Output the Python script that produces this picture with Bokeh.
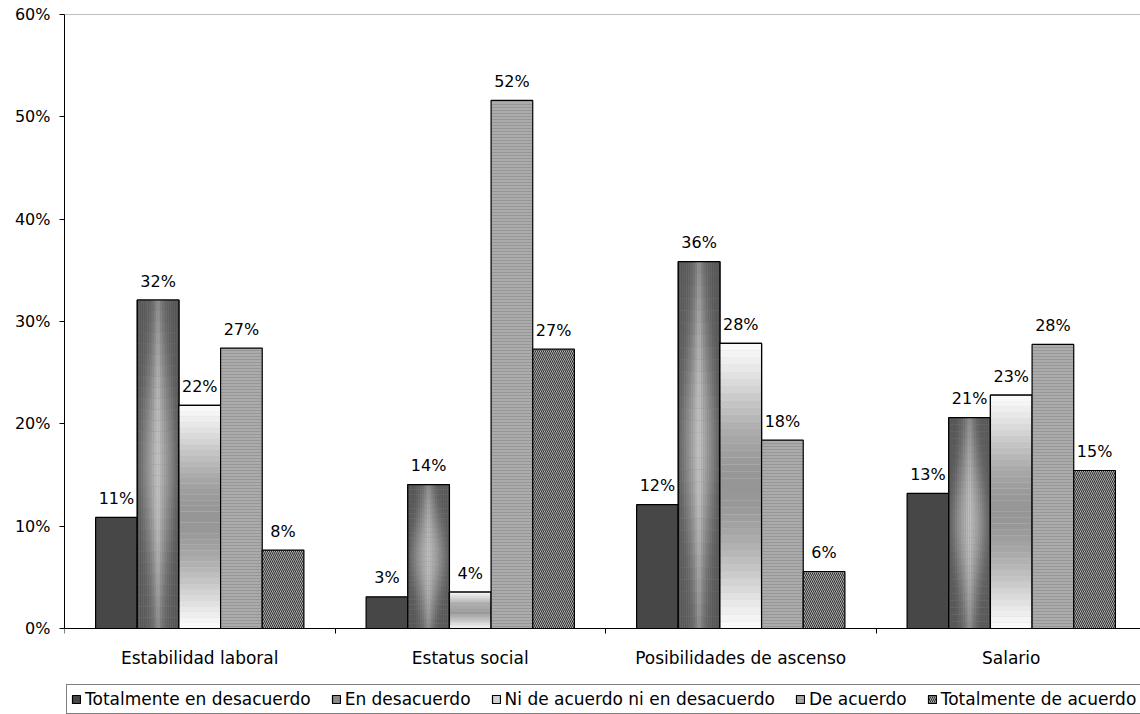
from bokeh.plotting import figure
from bokeh.models import Range1d, FixedTicker, Legend, LegendItem, Span, ColumnDataSource
from bokeh.core.properties import value
from bokeh.embed import file_html
from bokeh.resources import INLINE
import math

# ---------------- data ----------------
categories = ["Estabilidad laboral", "Estatus social", "Posibilidades de ascenso", "Salario"]
series_names = ["Totalmente en desacuerdo", "En desacuerdo",
                "Ni de acuerdo ni en desacuerdo", "De acuerdo", "Totalmente de acuerdo"]
totalmente_desacuerdo = [10.85, 3.1, 12.1, 13.2]
en_desacuerdo = [32.1, 14.05, 35.85, 20.6]
ni_acuerdo_ni_desacuerdo = [21.8, 3.56, 27.86, 22.8]
de_acuerdo = [27.4, 51.6, 18.4, 27.76]
totalmente_acuerdo = [7.66, 27.3, 5.57, 15.44]
y_ticks = [0, 10, 20, 30, 40, 50, 60]

all_series = [totalmente_desacuerdo, en_desacuerdo, ni_acuerdo_ni_desacuerdo,
              de_acuerdo, totalmente_acuerdo]

FONT = "DejaVu Sans"
W_FIG, H_FIG = 1140, 714
LEFT, TOP = 64, 14
ZERO_PX = 628            # pixel row (in figure) of the 0% line
PX_PER_GROUP = 270.5
frame_w = W_FIG - LEFT
px_per_unit = (ZERO_PX - TOP) / 60.0
y_bottom = -(H_FIG - ZERO_PX) / px_per_unit

p = figure(width=W_FIG, height=H_FIG, output_backend="svg", toolbar_location=None,
           x_range=Range1d(0, frame_w / PX_PER_GROUP), y_range=Range1d(y_bottom, 60),
           min_border_left=LEFT, min_border_right=0, min_border_top=TOP,
           min_border_bottom=0)
p.grid.visible = False
p.outline_line_color = None
p.background_fill_color = "white"

n_s = len(series_names)
bar_w = 0.77 / n_s

def centers(j):
    return [i + 0.5 + (j - (n_s - 1) / 2) * bar_w for i in range(len(categories))]

def gray(v):
    v = int(max(0, min(255, round(v))))
    return "#%02x%02x%02x" % (v, v, v)

base_fill = ["#474747", "#8a8a8a", "#d2d2d2", "#ababab", "#8c8c8c"]
legend_items = []

for j, vals in enumerate(all_series):
    xs = centers(j)
    src = ColumnDataSource(dict(x=xs, top=vals))
    kw = dict(fill_color=base_fill[j], line_color="black", line_width=1.2)
    if j == 3:
        kw.update(hatch_pattern="horizontal_line", hatch_color="#979797",
                  hatch_scale=3, hatch_weight=1)
    if j == 4:
        kw.update(fill_color="#d4d4d4", hatch_pattern="left_diagonal_line",
                  hatch_color="#2a2a2a", hatch_scale=4, hatch_weight=1.1)
    r = p.vbar(x="x", top="top", bottom=0, width=bar_w, source=src, **kw)
    legend_items.append(LegendItem(label=series_names[j], renderers=[r]))

    # gradient fills drawn as cells
    if j in (1, 2):
        L, R, B, T, C = [], [], [], [], []
        for x, v in zip(xs, vals):
            x0 = x - bar_w / 2
            ncol = 20 if j == 1 else 1
            nrow = 30 if j == 1 else 40
            for k in range(ncol):
                u = (k + 0.5) / ncol
                for m in range(nrow):
                    t = (m + 0.5) / nrow
                    if j == 1:
                        s = math.sin(math.pi * t)
                        fx = max(0.0, 1 - abs(2 * u - 1))
                        ex = 0.9 + 2.5 * (1 - s)
                        c = 86 + (195 - 86) * (fx ** ex) * (0.55 + 0.45 * s)
                    else:
                        c = 250 - 100 * math.sin(math.pi * t) ** 1.3
                    L.append(x0 + k * bar_w / ncol)
                    R.append(x0 + (k + 1) * bar_w / ncol)
                    B.append(v * m / nrow)
                    T.append(v * (m + 1) / nrow)
                    C.append(gray(c))
        p.quad(left=L, right=R, bottom=B, top=T, fill_color=C, line_color=None)
        p.vbar(x=xs, top=vals, bottom=0, width=bar_w, fill_color=None,
               line_color="black", line_width=1.2)

    # data labels
    labels = ["%d%%" % round(v) for v in vals]
    p.text(x=xs, y=vals, text=labels, text_align="center", text_baseline="alphabetic",
           y_offset=-19, text_font=value(FONT), text_font_size="16px", text_color="black")

# top border line of plot area
p.add_layout(Span(location=60, dimension="width", line_color="#808080", line_width=1))

# y axis
p.yaxis.ticker = FixedTicker(ticks=y_ticks)
p.yaxis.bounds = (0, 60)
p.yaxis.major_label_overrides = {t: "%d%%" % t for t in y_ticks}
p.yaxis.major_tick_out = 5
p.yaxis.major_tick_in = 0
p.yaxis.minor_tick_out = 0
p.yaxis.minor_tick_in = 0
p.yaxis.major_label_standoff = 9
p.yaxis.major_label_text_font = FONT
p.yaxis.major_label_text_font_size = "16px"
p.yaxis.major_label_text_color = "black"
p.yaxis.axis_line_color = "black"
p.yaxis.major_tick_line_color = "black"

# x axis, drawn at the 0% line inside the frame
centers_x = [i + 0.5 for i in range(len(categories))]
p.xaxis.fixed_location = 0
p.xaxis.ticker = FixedTicker(ticks=centers_x, minor_ticks=list(range(len(categories) + 1)))
p.xaxis.major_label_overrides = {c: lab for c, lab in zip(centers_x, categories)}
p.xaxis.major_tick_out = 0
p.xaxis.major_tick_in = 0
p.xaxis.minor_tick_out = 5
p.xaxis.minor_tick_in = 0
p.xaxis.minor_tick_line_color = "black"
p.xaxis.major_label_standoff = 14
p.xaxis.major_label_text_font = FONT
p.xaxis.major_label_text_font_size = "17px"
p.xaxis.major_label_text_color = "black"
p.xaxis.axis_line_color = "black"

legend = Legend(items=legend_items, orientation="horizontal", location=(2, 0),
                glyph_width=10, glyph_height=10, label_standoff=4, spacing=20,
                padding=4, margin=0, border_line_color="black", border_line_width=1,
                label_text_font=FONT, label_text_font_size="17px",
                label_text_color="black", label_height=20,
                background_fill_color="white")
p.add_layout(legend, "center")

open("out.html", "w").write(file_html(p, INLINE))
